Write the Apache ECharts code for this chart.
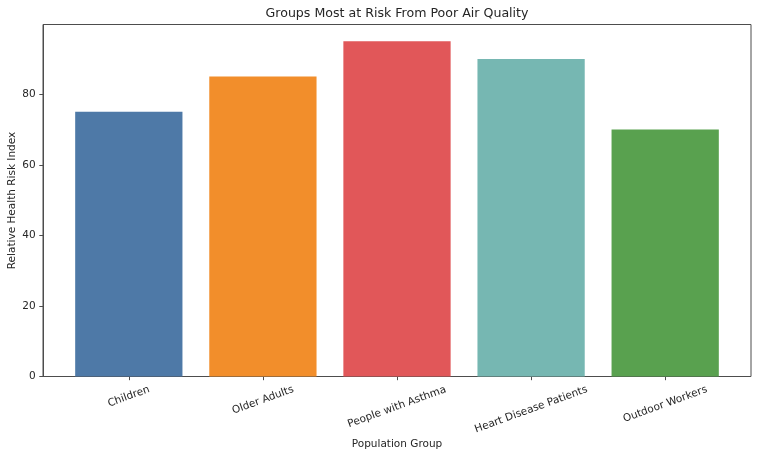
<!DOCTYPE html>
<html><head><meta charset="utf-8">
<script src="https://cdn.jsdelivr.net/npm/echarts@6/dist/echarts.min.js"></script>
<style>html,body{margin:0;padding:0;background:#fff}#c{width:758px;height:457px}</style>
</head><body><div id="c"></div>
<script>
const categories = ['Children', 'Older Adults', 'People with Asthma', 'Heart Disease Patients', 'Outdoor Workers'];
const riskValues = [75, 85, 95, 90, 70];
const barColors = ['#4e79a7', '#f28e2b', '#e15759', '#76b7b2', '#59a14f'];
const yTicks = [0, 20, 40, 60, 80];
const yMax = 99.75;

const FONT = 'DejaVu Sans';
const TXT = '#262626';
const AX = '#4d4d4d';
const plotL = 43, plotR = 751, plotT = 24.5, plotB = 376.5;
const n = categories.length;
const xlo = -0.64, xhi = n - 1 + 0.64;
const unit = (plotR - plotL) / (xhi - xlo);
const innerL = plotL + (-0.5 - xlo) * unit;
const innerR = plotL + (n - 0.5 - xlo) * unit;

const ctx = document.createElement('canvas').getContext('2d');
ctx.font = '10.5px "DejaVu Sans"';
const s20 = Math.sin(20 * Math.PI / 180), c20 = Math.cos(20 * Math.PI / 180);
const rich = {};
categories.forEach((c, i) => {
  const w = ctx.measureText(c).width, h = 12;
  const hh = (w * s20 + h * c20) / 2;
  rich['l' + i] = { fontFamily: FONT, fontSize: 10.5, color: TXT, padding: [2 * hh * c20, 2 * hh * s20, 0, 0] };
});

const chart = echarts.init(document.getElementById('c'), null, { renderer: 'canvas' });
chart.setOption({
  animation: false,
  backgroundColor: '#fff',
  title: {
    text: 'Groups Most at Risk From Poor Air Quality',
    left: (plotL + plotR) / 2, top: 7, textAlign: 'center', padding: 0,
    textStyle: { fontFamily: FONT, fontSize: 12.6, fontWeight: 'normal', color: TXT }
  },
  grid: [
    { left: plotL, right: 758 - plotR, top: plotT, bottom: 457 - plotB, outerBoundsMode: 'none', containLabel: false, show: true, borderColor: AX, borderWidth: 1, backgroundColor: 'transparent' },
    { left: innerL, right: 758 - innerR, top: plotT, bottom: 457 - plotB, outerBoundsMode: 'none', containLabel: false }
  ],
  xAxis: [
    { gridIndex: 0, type: 'value', min: 0, max: 1, show: false },
    {
      gridIndex: 1, type: 'category', data: categories,
      axisLine: { show: false },
      axisTick: { show: true, alignWithLabel: true, length: 3.7, lineStyle: { color: AX } },
      axisLabel: {
        interval: 0, rotate: 20, align: 'center', verticalAlign: 'middle', margin: 7,
        formatter: (v, i) => '{l' + i + '|' + v + '}', rich: rich
      },
      name: 'Population Group', nameLocation: 'middle', nameGap: 62.5, nameMoveOverlap: false,
      nameTextStyle: { fontFamily: FONT, fontSize: 10.5, color: TXT }
    }
  ],
  yAxis: [
    {
      gridIndex: 0, type: 'value', min: 0, max: yMax,
      axisLine: { show: true, lineStyle: { color: AX } },
      axisTick: { show: true, length: 3.7, customValues: yTicks, lineStyle: { color: AX } },
      axisLabel: { customValues: yTicks, margin: 7.4, fontFamily: FONT, fontSize: 10.5, color: TXT },
      splitLine: { show: false },
      name: 'Relative Health Risk Index', nameLocation: 'middle', nameGap: 25, nameMoveOverlap: false,
      nameTextStyle: { fontFamily: FONT, fontSize: 10.5, color: TXT }
    },
    { gridIndex: 1, type: 'value', min: 0, max: yMax, show: false }
  ],
  series: [{
    type: 'bar', xAxisIndex: 1, yAxisIndex: 1,
    barWidth: '80%',
    data: riskValues.map((v, i) => ({ value: v, itemStyle: { color: barColors[i] } }))
  }]
});
</script></body></html>
